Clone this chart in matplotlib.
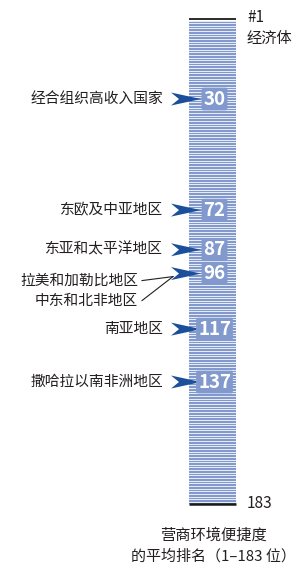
import matplotlib
matplotlib.use('Agg')
import matplotlib.pyplot as plt
from matplotlib.patches import Polygon
import numpy as np

plt.rcParams['font.family'] = ['Noto Sans CJK SC', 'DejaVu Sans']

# ---- data ----
regions = ['经合组织高收入国家', '东欧及中亚地区', '东亚和太平洋地区',
           '拉美和加勒比地区', '中东和北非地区', '南亚地区', '撒哈拉以南非洲地区']
ranks = [30, 72, 87, 96, 96, 117, 137]
n_economies = 183
top_labels = ['#1', '经济体']
bottom_label = '183'
caption_italic = '营商环境'
caption_rest = '便捷度'
caption_line2 = '的平均排名（1–183 位）'

# ---- style ----
BLUE = '#8299cd'
LIGHT = '#e6ebf6'
ARROW = '#1b4f9b'
TXT = '#231f20'

W, H = 296, 564
fig = plt.figure(figsize=(W / 100, H / 100), dpi=100)
ax = fig.add_axes([0, 0, 1, 1])

# map rank -> pixel rows
y_top_px, y_bot_px = 21.0, 505.0
ppr = (y_bot_px - y_top_px) / n_economies
r_at_px0 = 0.5 - y_top_px / ppr
r_at_pxH = 0.5 + (H - y_top_px) / ppr
ax.set_xlim(0, W)
ax.set_ylim(r_at_pxH, r_at_px0)
ax.axis('off')

def dpx(p):
    """pixel distance -> rank units"""
    return p / ppr

x0, x1 = 189, 236
xc = (x0 + x1) / 2

# stripes
econ = np.arange(1, n_economies + 1)
ax.barh(econ, x1 - x0, left=x0, height=1.0, color=LIGHT, linewidth=0, zorder=1)
ax.barh(econ, x1 - x0, left=x0, height=0.62, color=BLUE, linewidth=0, zorder=2)
ax.hlines([0.5 - dpx(1.5)], x0, x1, color='#1a1a1a', lw=1.3, zorder=3)
ax.hlines([n_economies + 0.5 - dpx(1)], x0, x1, color='#1a1a1a', lw=1.8, zorder=3)

# top / bottom labels
ax.text(247, 0.5 - dpx(3), top_labels[0], fontsize=11, color=TXT,
        ha='left', va='center')
ax.text(247, 0.5 + dpx(18), top_labels[1], fontsize=11, color=TXT,
        ha='left', va='center')
ax.text(247, n_economies + 0.5 - dpx(1), bottom_label, fontsize=11, color=TXT,
        ha='left', va='center')

def arrow(r):
    tip = 201
    pts = [(tip, r), (171, r - dpx(6.5)), (179, r), (171, r + dpx(6.5))]
    ax.add_patch(Polygon(pts, closed=True, fc=ARROW, ec='none', zorder=5))

done = set()
for name, r in zip(regions, ranks):
    if r not in done:
        ax.text(xc + 2, r, str(r), color='white', fontsize=13.5, weight='bold',
                ha='center', va='center', zorder=6,
                bbox=dict(boxstyle='round,pad=0.1', fc=BLUE, ec='none'))
        arrow(r)
        done.add(r)

# single labels
dup = [r for r in ranks if ranks.count(r) > 1]
for name, r in zip(regions, ranks):
    if r in dup:
        continue
    ax.text(163, r, name, fontsize=10.6, color=TXT, ha='right', va='center')

# shared-rank labels with leader lines
offs = [7, 27]
for k, (name, r) in enumerate([(n, r) for n, r in zip(regions, ranks) if r in dup]):
    yl = r + dpx(offs[k])
    ax.text(138, yl, name, fontsize=10.6, color=TXT, ha='right', va='center')
    ax.plot([142, 173], [yl, r + dpx(3)], color=TXT, lw=0.8)

# caption
y1 = n_economies + 0.5 + dpx(30)
y2 = n_economies + 0.5 + dpx(51)
ax.text(213, y1, caption_italic + caption_rest, fontsize=11, color=TXT,
        ha='center', va='center')
ax.text(213, y2, caption_line2, fontsize=10.8, color=TXT, ha='center', va='center')

fig.savefig('out.png', dpi=100)
